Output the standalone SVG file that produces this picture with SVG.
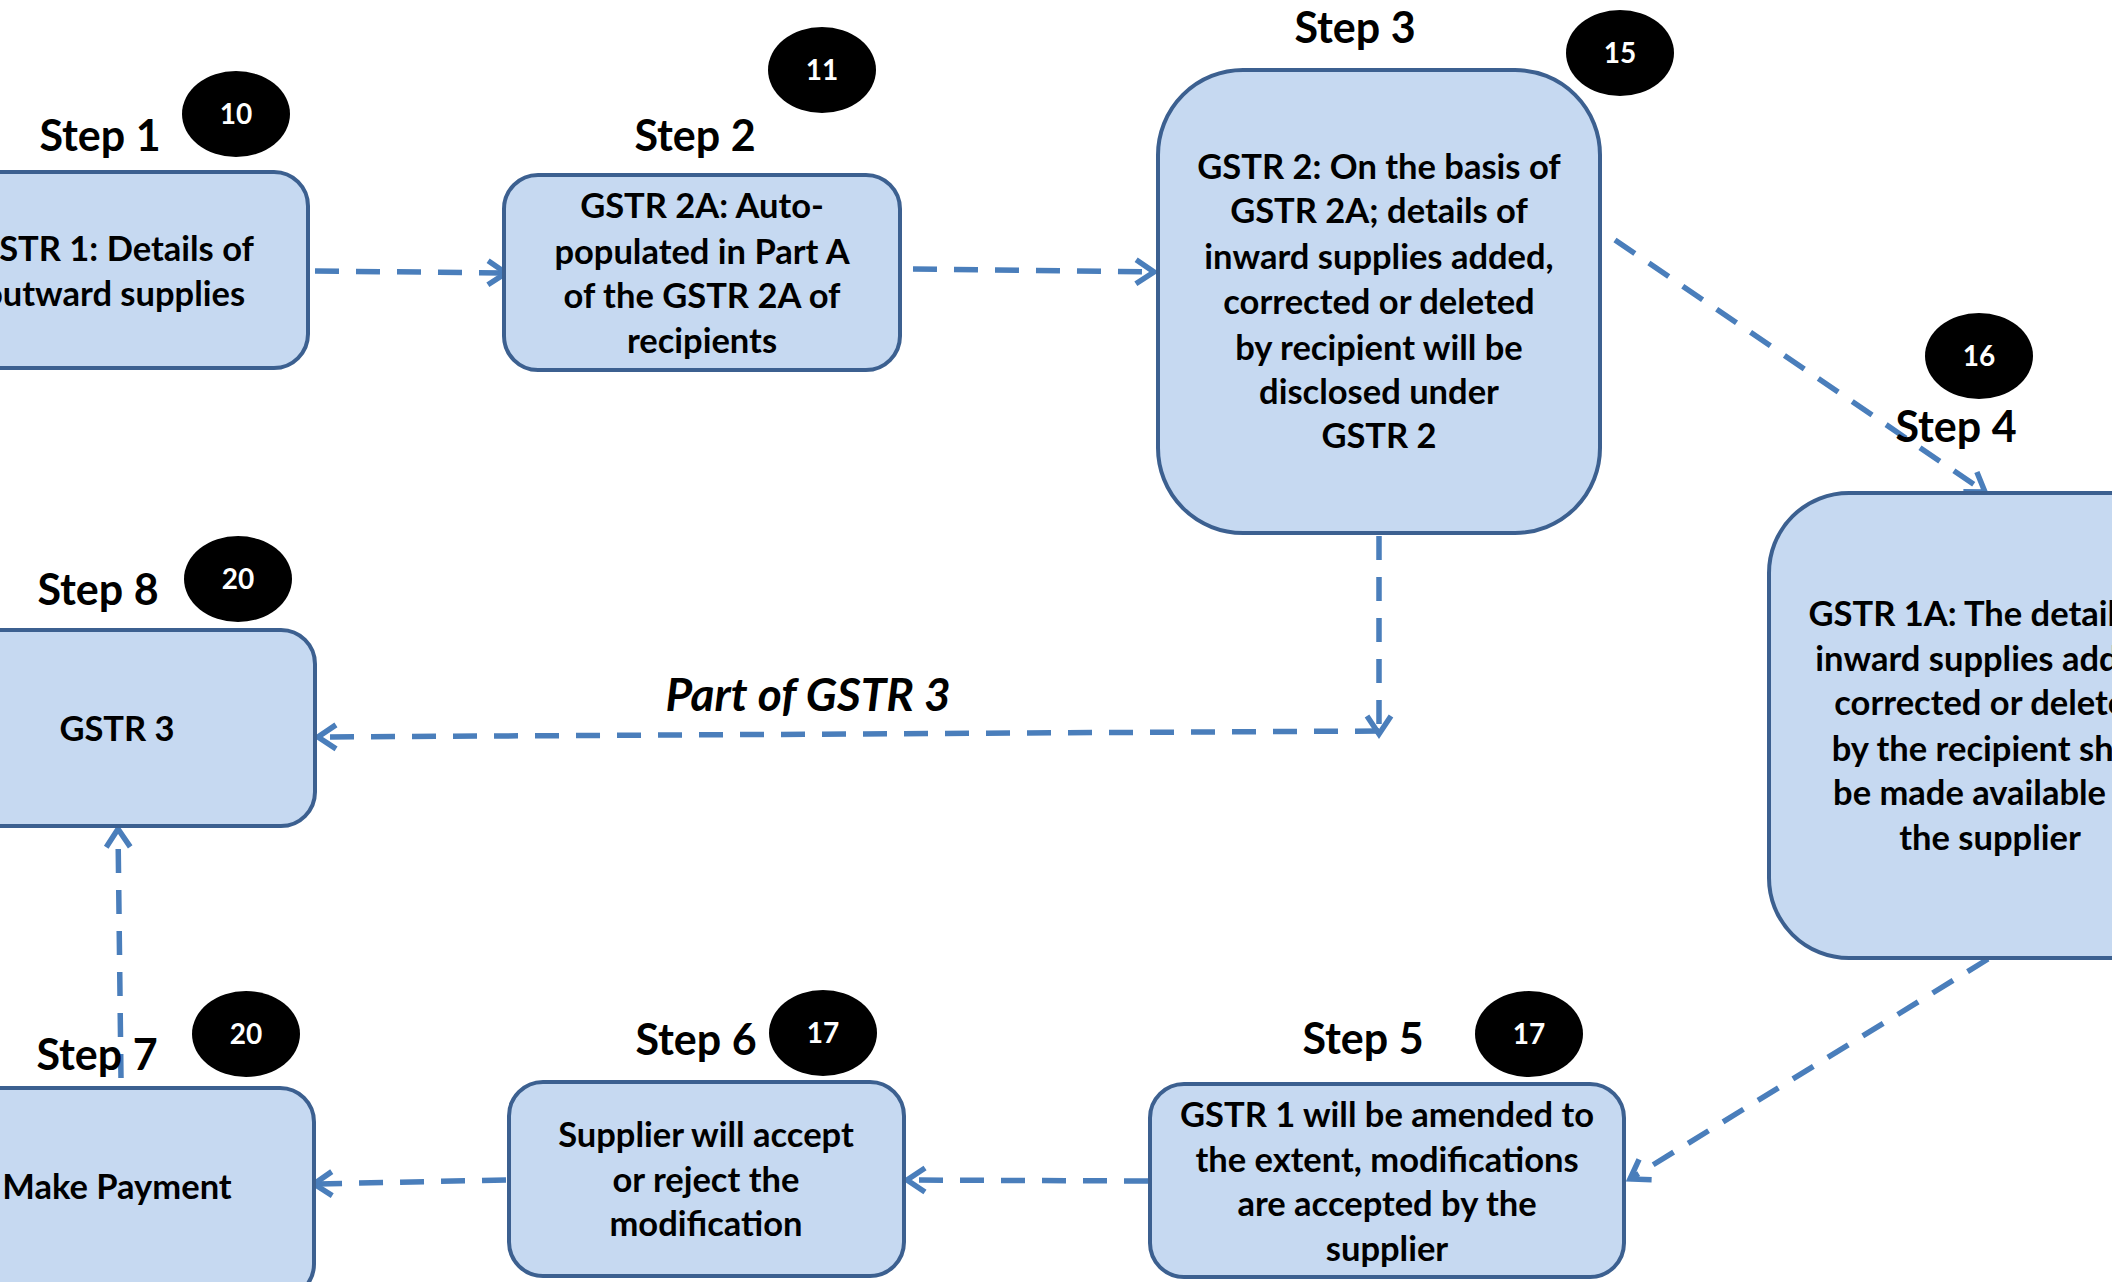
<svg xmlns="http://www.w3.org/2000/svg" width="2112" height="1282" viewBox="0 0 2112 1282">
<style>
.box{fill:#c6d9f1;stroke:#3c6090;stroke-width:4}
.t{font-family:Lato,"Liberation Sans",sans-serif;font-weight:bold;font-size:34.5px;fill:#000;text-anchor:middle}
.step{font-family:Lato,"Liberation Sans",sans-serif;font-weight:bold;font-size:43px;fill:#000;text-anchor:middle}
.num{font-family:Lato,"Liberation Sans",sans-serif;font-weight:bold;font-size:28px;fill:#fff;text-anchor:middle}
.badge{fill:#000}
.conn{fill:none;stroke:#4a7ebb;stroke-width:5.5;stroke-dasharray:24 17}
.lbl{font-family:Lato,"Liberation Sans",sans-serif;font-weight:bold;font-style:italic;font-size:46px;fill:#000;text-anchor:middle}
</style>
<defs>
<marker id="arr" viewBox="0 0 30 30" refX="25" refY="15" markerWidth="30" markerHeight="30" markerUnits="userSpaceOnUse" orient="auto">
<path d="M7,3 L25,15 L7,27" fill="none" stroke="#4a7ebb" stroke-width="5.5"/>
</marker>
</defs>
<rect width="2112" height="1282" fill="#fff"/>

<g id="connectors">
<line class="conn" x1="315" y1="271" x2="506" y2="273" marker-end="url(#arr)"/>
<line class="conn" x1="913" y1="269" x2="1154" y2="272" marker-end="url(#arr)"/>
<line class="conn" x1="1615" y1="240" x2="1985" y2="492" marker-end="url(#arr)"/>
<line class="conn" x1="1379" y1="536" x2="1379" y2="734" marker-end="url(#arr)"/>
<line class="conn" x1="1379" y1="731" x2="318" y2="737" marker-end="url(#arr)"/>
<line class="conn" x1="1988" y1="959" x2="1630" y2="1179" marker-end="url(#arr)"/>
<line class="conn" x1="1148" y1="1181" x2="907" y2="1180" marker-end="url(#arr)"/>
<line class="conn" x1="506" y1="1180" x2="314" y2="1184" marker-end="url(#arr)"/>
<line class="conn" x1="121" y1="1078" x2="118" y2="829" marker-end="url(#arr)"/>
<text class="lbl" x="808" y="711">Part of GSTR 3</text>
</g>

<g id="step1">
<rect class="box" x="-80" y="172" width="388" height="196" rx="34"/>
<text class="t" x="114" y="261">GSTR 1: Details of</text>
<text class="t" x="114" y="306">outward supplies</text>
<text class="step" x="100" y="151">Step 1</text>
<ellipse class="badge" cx="236" cy="114" rx="54" ry="43"/>
<text class="num" x="236" y="124">10</text>
</g>

<g id="step2">
<rect class="box" x="504" y="175" width="396" height="195" rx="34"/>
<text class="t" x="702" y="218">GSTR 2A: Auto-</text>
<text class="t" x="702" y="264">populated in Part A</text>
<text class="t" x="702" y="308">of the GSTR 2A of</text>
<text class="t" x="702" y="353">recipients</text>
<text class="step" x="695" y="151">Step 2</text>
<ellipse class="badge" cx="822" cy="70" rx="54" ry="43"/>
<text class="num" x="822" y="80">11</text>
</g>

<g id="step3">
<rect class="box" x="1158" y="70" width="442" height="463" rx="85"/>
<text class="t" x="1379" y="179">GSTR 2: On the basis of</text>
<text class="t" x="1379" y="223">GSTR 2A; details of</text>
<text class="t" x="1379" y="269">inward supplies added,</text>
<text class="t" x="1379" y="314">corrected or deleted</text>
<text class="t" x="1379" y="360">by recipient will be</text>
<text class="t" x="1379" y="404">disclosed under</text>
<text class="t" x="1379" y="448">GSTR 2</text>
<text class="step" x="1355" y="43">Step 3</text>
<ellipse class="badge" cx="1620" cy="53" rx="54" ry="43"/>
<text class="num" x="1620" y="63">15</text>
</g>

<g id="step4">
<rect class="box" x="1769" y="493" width="442" height="465" rx="80"/>
<text class="t" x="1990" y="626">GSTR 1A: The details of</text>
<text class="t" x="1990" y="671">inward supplies added,</text>
<text class="t" x="1990" y="715">corrected or deleted</text>
<text class="t" x="1990" y="761">by the recipient shall</text>
<text class="t" x="1990" y="805">be made available to</text>
<text class="t" x="1990" y="850">the supplier</text>
<text class="step" x="1956" y="442">Step 4</text>
<ellipse class="badge" cx="1979" cy="356" rx="54" ry="43"/>
<text class="num" x="1979" y="366">16</text>
</g>

<g id="step5">
<rect class="box" x="1150" y="1084" width="474" height="193" rx="34"/>
<text class="t" x="1387" y="1127">GSTR 1 will be amended to</text>
<text class="t" x="1387" y="1172">the extent, modifications</text>
<text class="t" x="1387" y="1216">are accepted by the</text>
<text class="t" x="1387" y="1261">supplier</text>
<text class="step" x="1363" y="1054">Step 5</text>
<ellipse class="badge" cx="1529" cy="1034" rx="54" ry="43"/>
<text class="num" x="1529" y="1044">17</text>
</g>

<g id="step6">
<rect class="box" x="509" y="1082" width="395" height="194" rx="34"/>
<text class="t" x="706" y="1147">Supplier will accept</text>
<text class="t" x="706" y="1192">or reject the</text>
<text class="t" x="706" y="1236">modification</text>
<text class="step" x="696" y="1055">Step 6</text>
<ellipse class="badge" cx="823" cy="1033" rx="54" ry="43"/>
<text class="num" x="823" y="1043">17</text>
</g>

<g id="step7">
<rect class="box" x="-80" y="1088" width="394" height="210" rx="34"/>
<text class="t" x="117" y="1199">Make Payment</text>
<text class="step" x="97" y="1070">Step 7</text>
<ellipse class="badge" cx="246" cy="1034" rx="54" ry="43"/>
<text class="num" x="246" y="1044">20</text>
</g>

<g id="step8">
<rect class="box" x="-80" y="630" width="395" height="196" rx="34"/>
<text class="t" x="117" y="741">GSTR 3</text>
<text class="step" x="98" y="605">Step 8</text>
<ellipse class="badge" cx="238" cy="579" rx="54" ry="43"/>
<text class="num" x="238" y="589">20</text>
</g>
</svg>
